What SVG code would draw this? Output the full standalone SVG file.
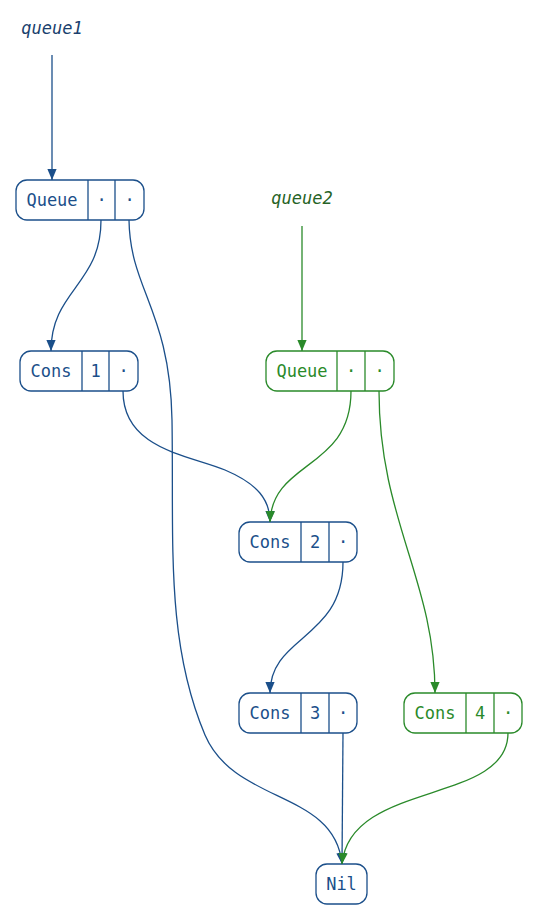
<svg xmlns="http://www.w3.org/2000/svg" width="540" height="915" viewBox="0 0 540 915">
  <style>
    .box { fill: #ffffff; stroke-width: 1.3; }
    .sep { stroke-width: 1.3; }
    .lbl { font-family: "DejaVu Sans Mono", "Liberation Mono", monospace; font-size: 17px; text-anchor: middle; dominant-baseline: central; }
    .var { font-family: "DejaVu Sans Mono", "Liberation Mono", monospace; font-size: 17px; font-style: italic; text-anchor: middle; }
    .blue { stroke: #1b4f8a; }
    .green { stroke: #2a8a2a; }
    .tblue { fill: #1b4f8a; }
    .tgreen { fill: #2a8a2a; }
    .edge { fill: none; stroke-width: 1.3; }
  </style>
  <defs>
    <marker id="ahBlue" viewBox="0 0 10 10" refX="10" refY="5" markerWidth="11" markerHeight="11" markerUnits="userSpaceOnUse" orient="auto">
      <path d="M0,0.8 L10,5 L0,9.2 Z" fill="#1b4f8a"/>
    </marker>
    <marker id="ahGreen" viewBox="0 0 10 10" refX="10" refY="5" markerWidth="11" markerHeight="11" markerUnits="userSpaceOnUse" orient="auto">
      <path d="M0,0.8 L10,5 L0,9.2 Z" fill="#2a8a2a"/>
    </marker>
  </defs>

  <!-- variable labels -->
  <g id="queue1">
    <text class="var" x="52" y="34" fill="#1a3f6e">queue1</text>
  </g>
  <g id="queue2">
    <text class="var" x="302" y="204" fill="#266326">queue2</text>
  </g>

  <!-- record nodes -->
  <g id="q1">
    <rect class="box blue" x="16" y="180" width="128" height="40" rx="11"/>
    <line class="sep blue" x1="88" y1="180" x2="88" y2="220"/>
    <line class="sep blue" x1="115" y1="180" x2="115" y2="220"/>
    <text class="lbl tblue" x="52" y="200">Queue</text>
    <text class="lbl tblue" x="101.5" y="200">·</text>
    <text class="lbl tblue" x="129.5" y="200">·</text>
  </g>
  <g id="c1">
    <rect class="box blue" x="20" y="351" width="118" height="40" rx="11"/>
    <line class="sep blue" x1="82" y1="351" x2="82" y2="391"/>
    <line class="sep blue" x1="109" y1="351" x2="109" y2="391"/>
    <text class="lbl tblue" x="51" y="371">Cons</text>
    <text class="lbl tblue" x="95.5" y="371">1</text>
    <text class="lbl tblue" x="123.5" y="371">·</text>
  </g>
  <g id="q2">
    <rect class="box green" x="266" y="351" width="128" height="40" rx="11"/>
    <line class="sep green" x1="337" y1="351" x2="337" y2="391"/>
    <line class="sep green" x1="365" y1="351" x2="365" y2="391"/>
    <text class="lbl tgreen" x="302" y="371">Queue</text>
    <text class="lbl tgreen" x="351" y="371">·</text>
    <text class="lbl tgreen" x="379.5" y="371">·</text>
  </g>
  <g id="c2">
    <rect class="box blue" x="239" y="522" width="118" height="40" rx="11"/>
    <line class="sep blue" x1="301" y1="522" x2="301" y2="562"/>
    <line class="sep blue" x1="329" y1="522" x2="329" y2="562"/>
    <text class="lbl tblue" x="270" y="542">Cons</text>
    <text class="lbl tblue" x="315" y="542">2</text>
    <text class="lbl tblue" x="343" y="542">·</text>
  </g>
  <g id="c3">
    <rect class="box blue" x="239" y="693" width="118" height="40" rx="11"/>
    <line class="sep blue" x1="301" y1="693" x2="301" y2="733"/>
    <line class="sep blue" x1="329" y1="693" x2="329" y2="733"/>
    <text class="lbl tblue" x="270" y="713">Cons</text>
    <text class="lbl tblue" x="315" y="713">3</text>
    <text class="lbl tblue" x="343" y="713">·</text>
  </g>
  <g id="c4">
    <rect class="box green" x="404" y="693" width="118" height="40" rx="11"/>
    <line class="sep green" x1="466" y1="693" x2="466" y2="733"/>
    <line class="sep green" x1="494" y1="693" x2="494" y2="733"/>
    <text class="lbl tgreen" x="435" y="713">Cons</text>
    <text class="lbl tgreen" x="480" y="713">4</text>
    <text class="lbl tgreen" x="508" y="713">·</text>
  </g>
  <g id="nil">
    <rect class="box blue" x="316" y="864" width="51" height="40" rx="11"/>
    <text class="lbl tblue" x="341.5" y="884">Nil</text>
  </g>

  <!-- connectors -->
  <g id="edges">
    <path class="edge blue" d="M52,55 L52,180" marker-end="url(#ahBlue)"/>
    <path class="edge green" d="M302,226 L302,351" marker-end="url(#ahGreen)"/>
    <path class="edge blue" d="M101,220 C101,285 51,290 51,351" marker-end="url(#ahBlue)"/>
    <path class="edge blue" d="M129,220 C130,290 170,310 172,420 C174,540 165,640 205,735 C235,805 335,790 342,864" marker-end="url(#ahBlue)"/>
    <path class="edge blue" d="M123,391 C123,450 190,455 225,470 C258,484 270,500 270,522" marker-end="url(#ahBlue)"/>
    <path class="edge green" d="M351,391 C351,470 272,460 270,522" marker-end="url(#ahGreen)"/>
    <path class="edge green" d="M379,391 C379,520 435,580 435,693" marker-end="url(#ahGreen)"/>
    <path class="edge blue" d="M343,562 C343,640 270,635 270,693" marker-end="url(#ahBlue)"/>
    <path class="edge blue" d="M343,733 L342,864" marker-end="url(#ahBlue)"/>
    <path class="edge green" d="M508,733 C508,805 350,780 342,864" marker-end="url(#ahGreen)"/>
  </g>
</svg>
